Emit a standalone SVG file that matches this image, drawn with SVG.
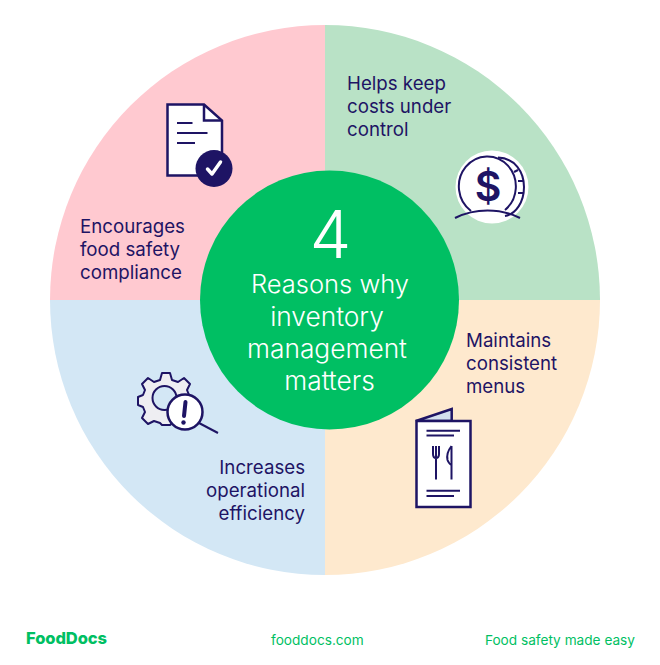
<svg xmlns="http://www.w3.org/2000/svg" width="660" height="665" viewBox="0 0 660 665">
<style>
.l{font-family:"Inter","Liberation Sans",sans-serif;font-size:18.7px;fill:#1e1464}
.c{font-family:"Inter","Liberation Sans",sans-serif;font-weight:300;font-size:25.5px;fill:#fff;text-anchor:middle}
.c2{font-size:26.3px}
.f{font-family:"Inter","Liberation Sans",sans-serif;font-size:13.65px;fill:#00bf63}
.s{fill:none;stroke:#1e1464;stroke-width:2.5}
.w{fill:#fff;stroke:#1e1464;stroke-width:2.5}
.t{fill:none;stroke:#1e1464;stroke-width:2}
</style>
<rect width="660" height="665" fill="#fff"/>
<g id="sectors">
<path d="M325 300V25A275 275 0 0 0 50 300Z" fill="#ffc9d0"/>
<path d="M325 300V25A275 275 0 0 1 600 300Z" fill="#b9e2c6"/>
<path d="M325 300H600A275 275 0 0 1 325 575Z" fill="#fee9ce"/>
<path d="M325 300V575A275 275 0 0 1 50 300Z" fill="#d3e7f5"/>
</g>
<g id="node-center">
<circle cx="329.500" cy="300" r="129.500" fill="#00bf63"/>
<text class="c" x="330.500" y="258" style="font-size:66px">4</text>
<text class="c" x="330" y="293">Reasons why</text>
<text class="c c2" x="327" y="326">inventory</text>
<text class="c c2" x="327" y="358">management</text>
<text class="c c2" x="329.500" y="390">matters</text>
</g>
<g id="node-compliance">
<path class="w" d="M167.500 104.500H204L222 120.500V175.500H167.500Z"/>
<path class="s" d="M204 104.500V120.500H222"/>
<path class="t" d="M177 123H192.500M177 133H207.500M177 143H195"/>
<circle cx="214" cy="168.500" r="18.500" fill="#1e1464"/>
<path d="M207.500 169L212 174L220.500 162" fill="none" stroke="#fff" stroke-width="3.500" stroke-linecap="round" stroke-linejoin="round"/>
<text class="l" x="80" y="233">Encourages</text>
<text class="l" x="80" y="256">food safety</text>
<text class="l" x="80" y="279">compliance</text>
</g>
<g id="node-costs">
<circle cx="492" cy="187" r="36.500" fill="#fff"/>
<path class="t" d="M498 157.500C515 158 524 172 524 187C524 202 516 214 505 216"/>
<path class="t" d="M518 170L514 172M523 181H518M523 193H518"/>
<path class="t" d="M471 211A28.500 30 0 1 1 505 210"/>
<path d="M455 218C475 208 500 208 520 218" fill="none" stroke="#1e1464" stroke-width="2"/>
<text x="488" y="201" text-anchor="middle" style="font-family:'Inter','Liberation Sans',sans-serif;font-size:41px;font-weight:600;fill:#1e1464">$</text>
<text class="l" x="347" y="90">Helps keep</text>
<text class="l" x="347" y="113">costs under</text>
<text class="l" x="347" y="136">control</text>
</g>
<g id="node-menus">
<path d="M416 421L451.700 409V421Z" fill="#d3e0ee" stroke="#1e1464" stroke-width="2.500"/>
<rect class="w" x="416.500" y="421" width="54" height="86"/>
<path class="t" d="M426.500 430.700H460M426.500 435.500H454M426.500 490.700H460M426.500 496H454"/>
<path class="t" d="M433 446V454Q433 458 436 458Q439 458 439 454V446M436 446V479.500M451.500 446Q446 453 447.500 460Q449 464 451.500 465V479.500V446"/>
<text class="l" x="466" y="347">Maintains</text>
<text class="l" x="466" y="370">consistent</text>
<text class="l" x="466" y="393">menus</text>
</g>
<g id="node-efficiency">
<path d="M162 373H170L172 380L178 382L184 378L190 384L187 390L189 395L192 397V405L189 407L187 412L190 418L184 424L178 421L172 423L170 425H162L160 423L154 421L148 424L142 418L145 412L143 407L138 405V397L143 395L145 390L142 384L148 378L154 382L160 380Z" fill="#eeeef2" stroke="#1e1464" stroke-width="2" stroke-linejoin="round"/>
<circle cx="164.500" cy="398" r="12" fill="#d3e7f5" stroke="#1e1464" stroke-width="2"/>
<path d="M199 423L218 433" stroke="#1e1464" stroke-width="2"/>
<circle cx="185" cy="412" r="17.500" fill="#fff" stroke="#1e1464" stroke-width="2.500"/>
<path d="M185.500 402L184 416" stroke="#1e1464" stroke-width="4" stroke-linecap="round"/>
<circle cx="183.500" cy="422.500" r="2.200" fill="#1e1464"/>
<text class="l" x="305" y="474" text-anchor="end">Increases</text>
<text class="l" x="305" y="497" text-anchor="end">operational</text>
<text class="l" x="305" y="520" text-anchor="end">efficiency</text>
</g>
<g id="footer">
<text x="26" y="644" style="font-family:'Inter','Liberation Sans',sans-serif;font-weight:800;font-size:16.500px;letter-spacing:-.1px;fill:#00bf63">FoodDocs</text>
<text class="f" x="271" y="645">fooddocs.com</text>
<text class="f" x="635" y="645" text-anchor="end">Food safety made easy</text>
</g>
</svg>
